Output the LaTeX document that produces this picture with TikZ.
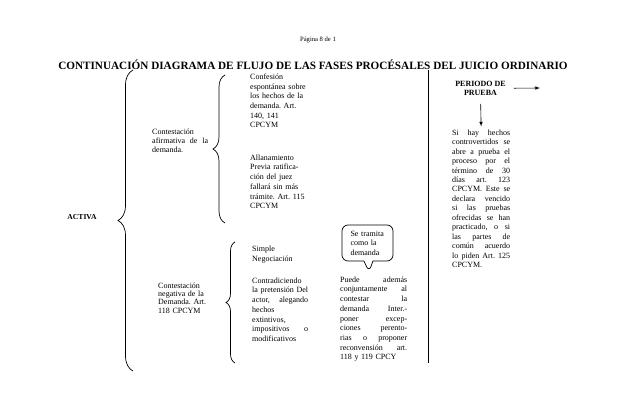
\documentclass[tikz,border=0pt]{standalone}
\usepackage{fontspec}
\setmainfont{Liberation Serif}
\usetikzlibrary{arrows,decorations.pathreplacing,shapes.callouts}
\setlength{\parindent}{0pt}
\frenchspacing
\newcommand{\jl}[1]{{\spaceskip=\fontdimen2\font plus 1fill\relax #1}}

\begin{document}
\begin{tikzpicture}[x=1pt, y=-1pt,
  txt/.style={inner sep=0pt, anchor=north west, align=left, text width=#1,
    font=\fontsize{8}{9.7}\selectfont},
  curly/.style={decorate, decoration={brace, amplitude=#1}, line width=.7pt},
  bold/.style={font=\bfseries\fontsize{#1}{9}\selectfont, inner sep=0pt}]
\useasboundingbox (0,0) rectangle (638,406);

\node[font=\fontsize{6.6}{8}\selectfont] at (318,40) (pagina) {Página 8 de 1};
\node[bold=11.2] at (313,65) (titulo)
  {CONTINUACIÓN DIAGRAMA DE FLUJO DE LAS FASES PROCÉSALES DEL JUICIO ORDINARIO};
\node[bold=7.6] at (82,217) (activa) {ACTIVA};

%big brace
\coordinate (bigtop) at (133,70);
\coordinate (bigbot) at (133,371);
\draw[curly=15pt] (bigbot) -- (bigtop);

\node[txt=56pt, font=\fontsize{8}{9}\selectfont] at (152,129) (afirm)
  {Contestación\\ \jl{afirmativa de la}\\ demanda.};
\coordinate (abrtop) at (225,75);
\coordinate (abrbot) at (225,223);
\draw[curly=12pt] (abrbot) -- (abrtop);

\node[txt=58pt] at (250,73.5) (confesion)
  {Confesión\\ espontánea sobre\\ los hechos de la\\ demanda. Art.\\ 140, 141\\ CPCYM};
\node[txt=58pt] at (250,154.5) (allana)
  {Allanamiento\\ Previa ratifica-\\ ción del juez\\ fallará sin más\\ trámite. Art. 115\\ CPCYM};

\node[txt=50pt, font=\fontsize{8}{8.3}\selectfont] at (158,282.5) (negativa)
  {Contestación\\ negativa de la\\ Demanda. Art.\\ 118 CPCYM};
\coordinate (nbrtop) at (235,242);
\coordinate (nbrbot) at (235,363);
\draw[curly=9pt] (nbrbot) -- (nbrtop);

\node[txt=56pt, font=\fontsize{8}{10.5}\selectfont] at (252,245.5) (simple)
  {Simple\\ Negociación};
\node[txt=56pt] at (252,277.5) (contra)
  {Contradiciendo\\ \jl{la pretensión Del}\\ \jl{actor, alegando}\\ hechos\\
   extintivos,\\ \jl{impositivos o}\\ modificativos};

\coordinate (punta) at (369,272);
\node[draw, rectangle callout, rounded corners=6pt, line width=.7pt,
  callout absolute pointer={(punta)}, callout pointer width=9pt,
  minimum width=51pt, minimum height=36pt, text width=34pt, inner sep=0pt,
  align=left, font=\fontsize{8}{9.5}\selectfont] at (367.5,243) (globo)
  {Se tramita\\ como la\\ demanda};
\node[txt=67pt] at (340,276.5) (puede)
  {\jl{Puede además}\\ \jl{conjuntamente al}\\ \jl{contestar la}\\ \jl{demanda Inter.-}\\
   \jl{poner excep-}\\ \jl{ciones perento-}\\ \jl{rias o proponer}\\
   \jl{reconvensión art.}\\ 118 y 119 CPCY};

%divider
\coordinate (divtop) at (428,70);
\coordinate (divbot) at (428,363);
\draw[line width=.9pt] (divtop) -- (divbot);

\node[bold=8, align=center] at (480.5,88.5) (periodo) {PERIODO DE\\ PRUEBA};
\coordinate (salida) at (540,88);
\draw[arrows={-latex}, line width=.6pt, shorten <=8pt] (periodo) -- (salida);

\node[txt=58pt, font=\fontsize{8}{9.45}\selectfont] at (452,129.5) (prueba)
  {\jl{Si hay hechos}\\ \jl{controvertidos se}\\ \jl{abre a prueba el}\\ \jl{proceso por el}\\
   \jl{término de 30}\\ \jl{días art. 123}\\ \jl{CPCYM. Este se}\\ \jl{declara vencido}\\
   \jl{si las pruebas}\\ \jl{ofrecidas se han}\\ \jl{practicado, o si}\\ \jl{las partes de}\\
   \jl{común acuerdo}\\ \jl{lo piden Art. 125}\\ CPCYM.};
\draw[arrows={-latex}, line width=.6pt, shorten <=8pt, shorten >=3pt]
  (periodo.south) -- (prueba.north);
\end{tikzpicture}
\end{document}
